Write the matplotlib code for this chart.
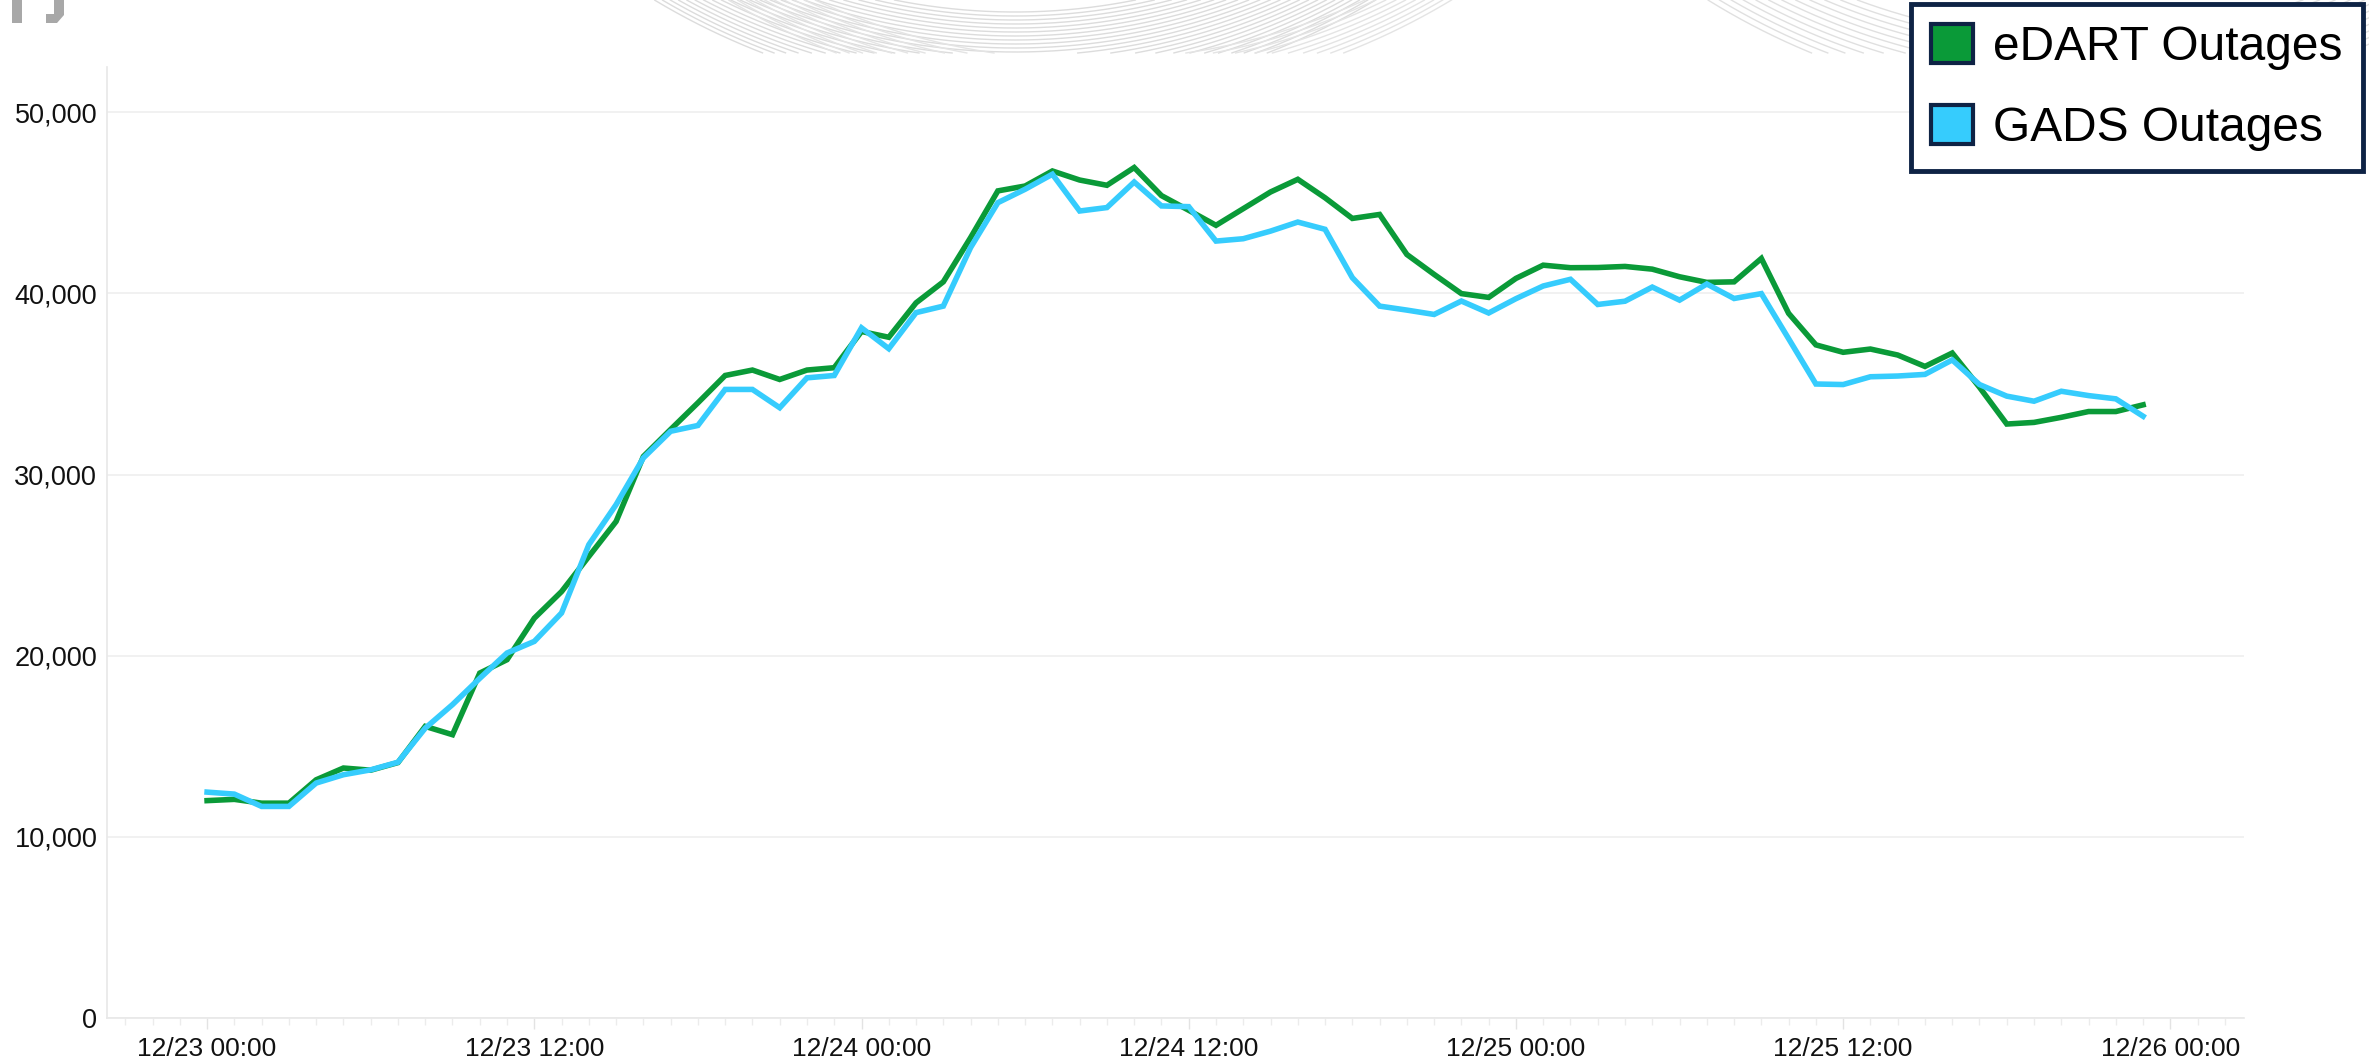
import numpy as np
import pandas as pd
import matplotlib
matplotlib.use("Agg")
import matplotlib.pyplot as plt
import matplotlib.dates as mdates
from matplotlib.patches import Patch, Polygon, Rectangle

plt.rcParams["font.family"] = ["Liberation Sans", "DejaVu Sans"]

# Hourly outage totals (MW), 12/23 00:00 through 12/25 23:00
hours = pd.date_range("2022-12-23 00:00", periods=72, freq="h")

edart_outages = [
    12000, 12070, 11860, 11860, 13150, 13800, 13680, 14100, 16100, 15640,
    19040, 19780, 22070, 23540, 25480, 27410, 31000, 32490, 33960, 35470,
    35770, 35250, 35770, 35900, 37900, 37580, 39480, 40640, 43080, 45660,
    45930, 46760, 46260, 45970, 46950, 45400, 44590, 43760, 44680, 45600,
    46300, 45280, 44140, 44360, 42150, 41050, 39990, 39780, 40830, 41560,
    41420, 41430, 41490, 41340, 40920, 40610, 40640, 41930, 38900, 37160,
    36750, 36930, 36600, 35970, 36710, 34820, 32790, 32880, 33160, 33480,
    33480, 33850,
]

gads_outages = [
    12470, 12360, 11680, 11680, 12970, 13430, 13700, 14120, 16000, 17300,
    18750, 20150, 20790, 22360, 26130, 28340, 30920, 32390, 32710, 34700,
    34700, 33690, 35340, 35470, 38100, 36950, 38940, 39300, 42530, 45010,
    45750, 46580, 44550, 44740, 46150, 44830, 44790, 42890, 43020, 43440,
    43940, 43540, 40870, 39300, 39080, 38840, 39580, 38920, 39710, 40410,
    40780, 39390, 39570, 40350, 39630, 40520, 39720, 39990, 37500, 35000,
    34970, 35400, 35440, 35530, 36330, 34970, 34330, 34050, 34600, 34360,
    34180, 33220,
]

series_labels = ["eDART Outages", "GADS Outages"]
series_colors = ["#0A9A38", "#36CCFD"]
frame_navy = "#0E2345"

W, H = 2369, 1059
fig = plt.figure(figsize=(W / 100, H / 100), dpi=100)
fig.patch.set_facecolor("white")

# --- header band: faint swept arcs and the logo fragment (pixel coordinates) ---
deco = fig.add_axes([0, 0, 1, 1], zorder=0)
deco.set_xlim(0, W)
deco.set_ylim(H, 0)
deco.axis("off")
band = 53


def arc_family(cx, cy, radii, x_lo, x_hi, color):
    xs = np.linspace(x_lo, x_hi, 2000)
    for r in radii:
        d = r ** 2 - (xs - cx) ** 2
        ys = np.where(d > 0, cy + np.sqrt(np.clip(d, 0, None)), np.nan)
        ys = np.where((ys >= 0) & (ys <= band), ys, np.nan)
        deco.plot(xs, ys, color=color, lw=1.0)


arc_family(1015, -600, np.arange(612, 702, 4.0), 560, 1480, "#dcdcdc")
arc_family(1090, -600, np.arange(660, 702, 4.5), 560, 1480, "#e4e4e4")
arc_family(2080, -600, np.arange(640, 712, 6.0), 1660, 2369, "#e0e0e0")

logo_gray = "#a8a8a8"
deco.add_patch(Rectangle((12, 0), 10, 23, color=logo_gray, lw=0))
deco.add_patch(Polygon([(54, 0), (64, 0), (64, 15), (57, 23), (46, 23),
                        (46, 14), (54, 14)], closed=True, color=logo_gray, lw=0))

# --- main chart ---
ax = fig.add_axes([107 / W, 1 - 1018 / H, (2244 - 107) / W, (1018 - 67) / H], zorder=2)
ax.patch.set_alpha(0)

ax.plot(hours, edart_outages, color=series_colors[0], lw=4.0,
        solid_joinstyle="miter", zorder=3)
ax.plot(hours, gads_outages, color=series_colors[1], lw=4.0,
        solid_joinstyle="miter", zorder=4)

ax.set_ylim(0, 52500)
ax.set_yticks([0, 10000, 20000, 30000, 40000, 50000])
ax.yaxis.set_major_formatter(matplotlib.ticker.FuncFormatter(lambda v, p: f"{int(v):,}"))

x_start = hours[0] - pd.Timedelta(hours=3.67)
x_end = hours[0] + pd.Timedelta(hours=74.7)
ax.set_xlim(x_start, x_end)
ax.xaxis.set_major_locator(mdates.HourLocator(byhour=[0, 12]))
ax.xaxis.set_minor_locator(mdates.HourLocator())
ax.xaxis.set_major_formatter(mdates.DateFormatter("%m/%d %H:%M"))

ax.grid(axis="y", color="#efefef", lw=1.2)
ax.set_axisbelow(True)
for side in ["top", "right"]:
    ax.spines[side].set_visible(False)
for side in ["left", "bottom"]:
    ax.spines[side].set_color("#e8e8e8")
    ax.spines[side].set_linewidth(1.2)

ax.tick_params(axis="y", length=0, pad=7, labelsize=19.5, labelcolor="#111111")
ax.tick_params(axis="x", which="major", length=8, width=1, color="#e3e3e3",
               pad=6, labelsize=19, labelcolor="#111111")
ax.tick_params(axis="x", which="minor", length=5, width=1, color="#ececec")

handles = [Patch(facecolor=c, edgecolor=frame_navy, linewidth=3) for c in series_colors]
leg = fig.legend(handles, series_labels, loc="upper right",
                 bbox_to_anchor=(2363 / W, 1 - 4 / H), fontsize=34.5,
                 frameon=True, fancybox=False, framealpha=1,
                 edgecolor=frame_navy, handlelength=0.88, handleheight=0.88,
                 handletextpad=0.42, labelspacing=0.72, borderpad=0.42,
                 borderaxespad=0)
leg.get_frame().set_linewidth(3.5)
leg.set_zorder(10)

fig.savefig("out.png", dpi=100, facecolor="white")
